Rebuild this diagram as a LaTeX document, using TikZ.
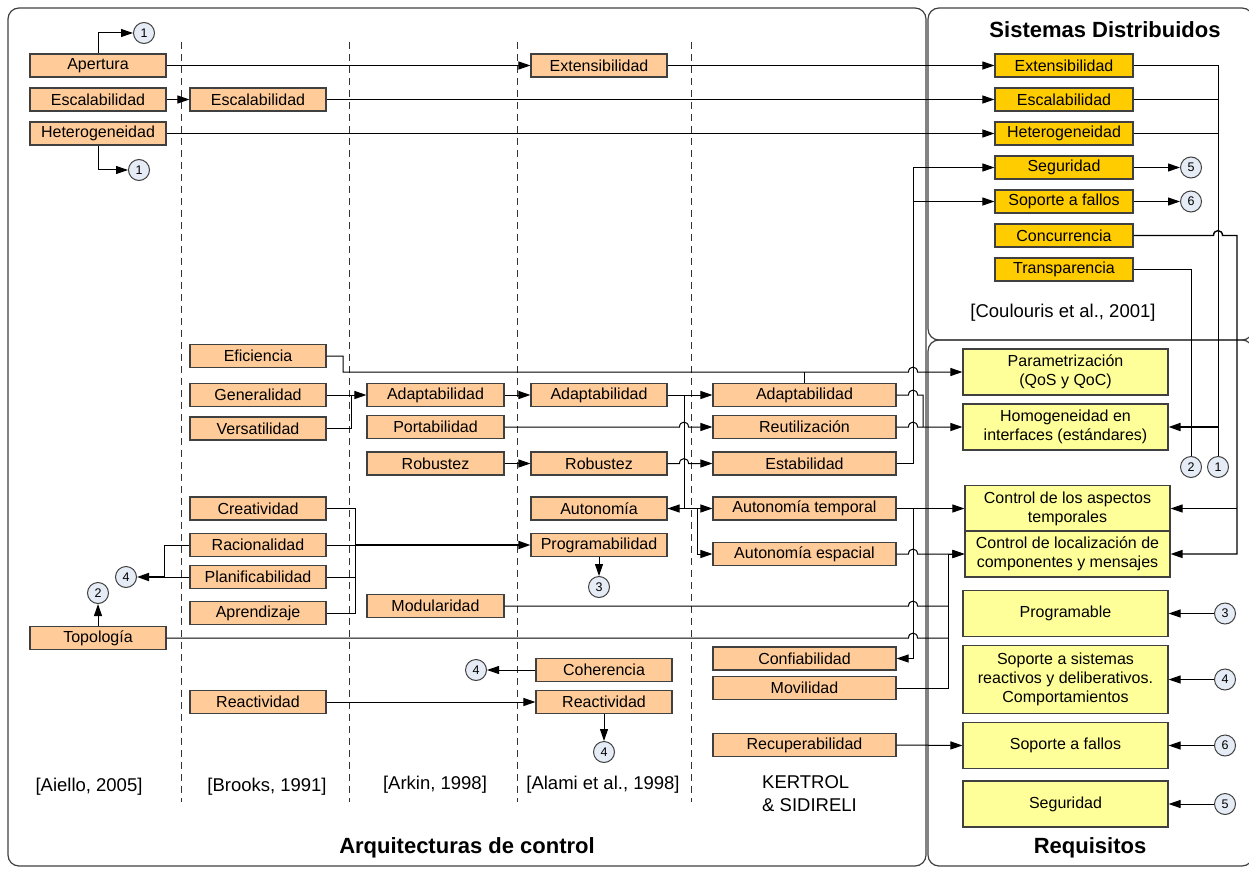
\documentclass[tikz,border=0pt]{standalone}
\usepackage{fontspec}
\setmainfont{Liberation Sans}
\usetikzlibrary{arrows.meta}
\definecolor{peach}{HTML}{FFCC99}
\definecolor{gold}{HTML}{FFCC00}
\definecolor{pale}{HTML}{FFFF99}
\definecolor{bubble}{HTML}{E6ECF6}
\definecolor{rim}{HTML}{404040}
\newcommand\boxfont{\fontsize{16}{19}\selectfont}
\newcommand\reffont{\fontsize{18.5}{23}\selectfont}
\newcommand\titlefont{\fontsize{22}{26}\selectfont\bfseries}
\newcommand\numfont{\fontsize{12.5}{14}\selectfont}
% small bridge where a horizontal line jumps over a vertical one at x=#1, y=#2
\newcommand\jump[2]{-- ({#1-4.5},#2) .. controls ({#1-4.5},{#2-6.5}) and ({#1+4.5},{#2-6.5}) .. ({#1+4.5},#2)}

\begin{document}
\begin{tikzpicture}[x=1pt,y=-1pt,
  blk/.style={draw=rim, line width=1.1pt, minimum height=23pt, inner sep=0pt, font=\boxfont},
  arq/.style={blk, fill=peach, minimum width=136pt},
  ker/.style={blk, fill=peach, minimum width=183pt},
  sd/.style={blk, fill=gold, minimum width=138pt},
  req/.style={blk, fill=pale, minimum width=205pt, minimum height=46pt, align=center},
  bub/.style={circle, draw=rim, fill=bubble, line width=1pt, minimum size=21pt, inner sep=0pt, font=\numfont},
  link/.style={draw=black, line width=1pt},
  heavy/.style={draw=black, line width=1.8pt},
  flow/.style={-{Triangle[length=12pt,width=8pt]}},
  colsep/.style={draw=black!80, line width=1pt, dash pattern=on 7pt off 5pt},
  frame/.style={draw=black!75, line width=1.2pt, rounded corners=11pt},
  refl/.style={font=\reffont, inner sep=0pt},
]
\useasboundingbox (0,0) rectangle (1249,869);

% frames
\draw[frame] (8,8) rectangle (926,866);
\draw[frame] (928,8) rectangle (1253,340);
\draw[frame] (928,340) rectangle (1253,866);

% column separators
\foreach \cx in {181,349,517,691}
  \draw[colsep] (\cx,42) -- (\cx,802);

% titles and references
\node[font=\titlefont] (tSD) at (1105,30) {Sistemas Distribuidos};
\node[font=\titlefont] (tAC) at (467,848) {Arquitecturas de control};
\node[font=\titlefont] (tRQ) at (1090,848) {Requisitos};
\node[refl] (rAi) at (89,787) {[Aiello, 2005]};
\node[refl] (rBr) at (267,787) {[Brooks, 1991]};
\node[refl] (rAr) at (435,785) {[Arkin, 1998]};
\node[refl] (rAl) at (603,785) {[Alami et al., 1998]};
\node[refl, align=left, anchor=west] (rKS) at (762,793.5) {KERTROL\\\& SIDIRELI};
\node[refl] (rCo) at (1063,313) {[Coulouris et al., 2001]};

% Aiello
\node[arq] (ap) at (98,65.5) {Apertura};
\node[arq] (esA) at (98,99.5) {Escalabilidad};
\node[arq] (he) at (98,133.5) {Heterogeneidad};
\node[arq] (to) at (98,638) {Topología};
\node[bub] (n1a) at (144,33) {1};
\node[bub] (n1b) at (139,170) {1};
\node[bub] (n2a) at (98,593) {2};
\node[bub] (n4a) at (126,577) {4};

% Brooks
\node[arq] (esB) at (258,99.5) {Escalabilidad};
\node[arq] (ef) at (258,356) {Eficiencia};
\node[arq] (ge) at (258,395) {Generalidad};
\node[arq] (ve) at (258,428.5) {Versatilidad};
\node[arq] (cr) at (258,508.5) {Creatividad};
\node[arq] (ra) at (258,545) {Racionalidad};
\node[arq] (pl) at (258,577) {Planificabilidad};
\node[arq] (apr) at (258,613) {Aprendizaje};
\node[arq] (reB) at (258,702) {Reactividad};

% Arkin
\node[arq, minimum width=137pt] (adC) at (435.5,395) {Adaptabilidad};
\node[arq, minimum width=137pt] (po) at (435.5,427) {Portabilidad};
\node[arq, minimum width=137pt] (roC) at (435.5,463.5) {Robustez};
\node[arq, minimum width=137pt] (mo) at (435.5,606) {Modularidad};

% Alami
\node[arq] (ex) at (599,65.5) {Extensibilidad};
\node[arq] (adD) at (599,395) {Adaptabilidad};
\node[arq] (roD) at (599,463.5) {Robustez};
\node[arq] (au) at (599,508.5) {Autonomía};
\node[arq] (pr) at (599,545) {Programabilidad};
\node[bub] (n3a) at (599,587) {3};
\node[arq] (co) at (604,670) {Coherencia};
\node[arq] (reD) at (604,702) {Reactividad};
\node[bub] (n4b) at (476,670) {4};
\node[bub] (n4c) at (604,752) {4};

% KERTROL & SIDIRELI
\node[ker] (adK) at (804.5,395) {Adaptabilidad};
\node[ker] (reu) at (804.5,427) {Reutilización};
\node[ker] (est) at (804.5,463.5) {Estabilidad};
\node[ker] (at) at (804.5,508.5) {Autonomía temporal};
\node[ker] (ae) at (804.5,554) {Autonomía espacial};
\node[ker] (cf) at (804.5,658.5) {Confiabilidad};
\node[ker] (mv) at (804.5,688) {Movilidad};
\node[ker] (rc) at (804.5,745) {Recuperabilidad};

% Sistemas distribuidos
\node[sd] (sEx) at (1064,65.5) {Extensibilidad};
\node[sd] (sEs) at (1064,99.5) {Escalabilidad};
\node[sd] (sHe) at (1064,133.5) {Heterogeneidad};
\node[sd] (sSe) at (1064,167.5) {Seguridad};
\node[sd] (sSo) at (1064,201.5) {Soporte a fallos};
\node[sd] (sCo) at (1064,235.5) {Concurrencia};
\node[sd] (sTr) at (1064,269.5) {Transparencia};
\node[bub] (n5a) at (1191,167.5) {5};
\node[bub] (n6a) at (1191,201.5) {6};

% Requisitos
\node[req] (par) at (1065.5,372) {Parametrización\\(QoS y QoC)};
\node[req] (hom) at (1065.5,427) {Homogeneidad en\\interfaces (estándares)};
\node[req] (tem) at (1067.5,508.5) {Control de los aspectos\\temporales};
\node[req] (loc) at (1067.5,554) {Control de localización de\\componentes y mensajes};
\node[req] (prg) at (1065.5,613.5) {Programable};
\node[req, minimum height=68pt] (srd) at (1065.5,679.5) {Soporte a sistemas\\reactivos y deliberativos.\\Comportamientos};
\node[req] (sfa) at (1065.5,745.5) {Soporte a fallos};
\node[req] (seg) at (1065.5,804) {Seguridad};
\node[bub] (n2b) at (1191,467) {2};
\node[bub] (n1c) at (1218,467) {1};
\node[bub] (n3b) at (1225,613.5) {3};
\node[bub] (n4d) at (1225,679.5) {4};
\node[bub] (n6b) at (1225,745.5) {6};
\node[bub] (n5b) at (1225,804) {5};

% top rows
\draw[link,flow] (ap.east) -- (ex.west);
\draw[link,flow] (ex.east) -- (sEx.west);
\draw[link,flow] (esA.east) -- (esB.west);
\draw[link,flow] (esB.east) -- (sEs.west);
\draw[link,flow] (he.east) -- (sHe.west);
\draw[link,flow] (ap.north) |- (n1a.west);
\draw[link,flow] (he.south) |- (n1b.west);
\draw[link,flow] (to.north) -- (n2a.south);

% Brooks and Arkin towards the right
\draw[link,flow] (ef.east) -- (343,356) -- (343,372) \jump{913}{372} -- (par.west);
\draw[link] (adK.north) -- (804.5,372);
\draw[link,flow] (ge.east) -- (adC.west);
\draw[link] (ve.east) -- (351,428.5) -- (351,395);
\draw[link,flow] (adC.east) -- (adD.west);
\draw[link,flow] (adD.east) -- (adK.west);
\draw[link,flow] (adD.east) -- (684,395) -- (684,508.5) -- (au.east);
\draw[link,flow] (au.east) -- (at.west);
\draw[link,flow] (697,508.5) -- (697,554) -- (ae.west);
\draw[link,flow] (po.east) \jump{684}{427} -- (reu.west);
\draw[link,flow] (roC.east) -- (roD.west);
\draw[link,flow] (roD.east) \jump{684}{463.5} -- (est.west);

% KERTROL towards the requirements
\draw[link] (adK.east) \jump{913}{395} -- (923,395) -- (923,427);
\draw[link,flow] (reu.east) \jump{913}{427} -- (hom.west);
\draw[link,flow] (est.east) -- (913,463.5) -- (913,167.5) -- (sSe.west);
\draw[link,flow] (913,201.5) -- (sSo.west);
\draw[link,flow] (at.east) -- (tem.west);
\draw[link,flow] (913,508.5) -- (913,658.5) -- (cf.east);
\draw[link,flow] (ae.east) \jump{913}{554} -- (loc.west);
\draw[link] (mo.east) \jump{913}{606} -- (948,606);
\draw[link] (to.east) \jump{913}{638} -- (948,638);
\draw[link,flow] (mv.east) -- (948,688) -- (948,554) -- (loc.west);
\draw[link,flow] (rc.east) -- (sfa.west);

% Brooks bundle
\draw[link] (ra.east) -- (355,545);
\draw[heavy,flow] (355,545) -- (pr.west);
\draw[link] (cr.east) -- (355,508.5) -- (355,613) -- (apr.east);
\draw[link] (pl.east) -- (355,577);
\draw[link] (ra.west) -- (164,545) -- (164,577);
\draw[link] (pl.west) -- (164,577);
\draw[heavy,flow] (164,577) -- (n4a.east);

% Alami outputs
\draw[link,flow] (pr.south) -- (n3a.north);
\draw[link,flow] (co.west) -- (n4b.east);
\draw[link,flow] (reB.east) -- (reD.west);
\draw[link,flow] (reD.south) -- (n4c.north);

% Sistemas distribuidos outputs
\draw[link,flow] (sSe.east) -- (n5a.west);
\draw[link,flow] (sSo.east) -- (n6a.west);
\draw[link] (sEx.east) -- (1218,65.5) -- (n1c.north);
\draw[link] (sEs.east) -- (1218,99.5);
\draw[link] (sHe.east) -- (1218,133.5);
\draw[heavy,flow] (1218,427) -- (hom.east);
\draw[link] (sTr.east) -- (1191,269.5) -- (n2b.north);
\draw[link,line width=1.4pt,flow] (sCo.east) \jump{1218}{235.5} -- (1237,235.5) -- (1237,554) -- (loc.east);
\draw[link,flow] (1237,508.5) -- (tem.east);

% numbered references into requirements
\draw[link,flow] (n3b.west) -- (prg.east);
\draw[link,flow] (n4d.west) -- (srd.east);
\draw[link,flow] (n6b.west) -- (sfa.east);
\draw[link,flow] (n5b.west) -- (seg.east);
\end{tikzpicture}
\end{document}
